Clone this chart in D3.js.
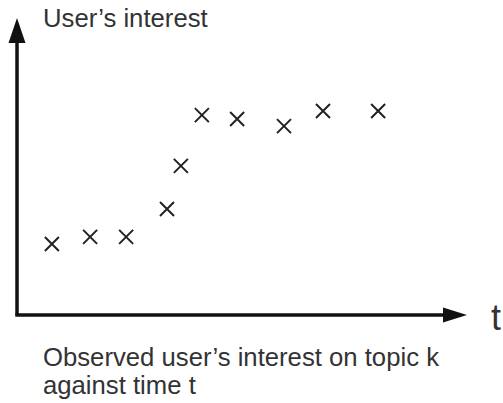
<html>
<script src='https://d3js.org/d3.v7.min.js'></script>
<style>
body { margin: 0; background: #fff; }
text { font-family: "Liberation Sans", Arial, sans-serif; fill: #333; }
</style>
<body>
<svg width=503 height=403></svg>
<script>
var times = [0.93, 1.95, 2.91, 4.0, 4.37, 4.93, 5.87, 7.12, 8.16, 9.63];
var interest = [2.39, 2.63, 2.63, 3.57, 5.02, 6.73, 6.6, 6.36, 6.87, 6.87];
var yLabel = "User\u2019s interest";
var xLabel = "t";
var caption = ["Observed user\u2019s interest on topic k", "against time t"];

var svg = d3.select("svg");

var x = d3.scaleLinear().domain([0, 12]).range([17, 467]);
var y = d3.scaleLinear().domain([0, 10]).range([315, 18]);

// axes
svg.append("line")
   .attr("x1", x(0)).attr("y1", y(0))
   .attr("x2", x(0)).attr("y2", y(10) + 20)
   .attr("stroke", "#111").attr("stroke-width", 3.5);
svg.append("line")
   .attr("x1", x(0) - 1.75).attr("y1", y(0))
   .attr("x2", x(12) - 20).attr("y2", y(0))
   .attr("stroke", "#111").attr("stroke-width", 3.5);

// arrow heads
svg.append("path")
   .attr("d", "M" + (x(0) - 8.5) + "," + (y(10) + 25) + "L" + x(0) + "," + y(10) + "L" + (x(0) + 8.5) + "," + (y(10) + 25) + "Z")
   .attr("fill", "#111");
svg.append("path")
   .attr("d", "M" + (x(12) - 24) + "," + (y(0) - 7.5) + "L" + x(12) + "," + y(0) + "L" + (x(12) - 24) + "," + (y(0) + 7.5) + "Z")
   .attr("fill", "#111");

// markers
var s = 7;
svg.selectAll(".pt")
   .data(times)
   .enter()
   .append("path")
     .attr("class", "pt")
     .attr("d", function(d, i) {
        var cx = x(d), cy = y(interest[i]);
        return "M" + (cx - s) + "," + (cy - s) + "L" + (cx + s) + "," + (cy + s) +
               "M" + (cx - s) + "," + (cy + s) + "L" + (cx + s) + "," + (cy - s);
     })
     .attr("stroke", "#222").attr("stroke-width", 2).attr("fill", "none");

// labels
svg.append("text").attr("x", 43).attr("y", 27).style("font-size", "25.7px").text(yLabel);
svg.append("text").attr("x", 491).attr("y", 330).style("font-size", "36px").text(xLabel);
svg.selectAll(".cap")
   .data(caption)
   .enter()
   .append("text")
     .attr("class", "cap")
     .attr("x", 43)
     .attr("y", function(d, i) { return 366 + i * 28; })
     .style("font-size", "25.7px")
     .text(function(d) { return d; });
</script>
</body>
</html>
